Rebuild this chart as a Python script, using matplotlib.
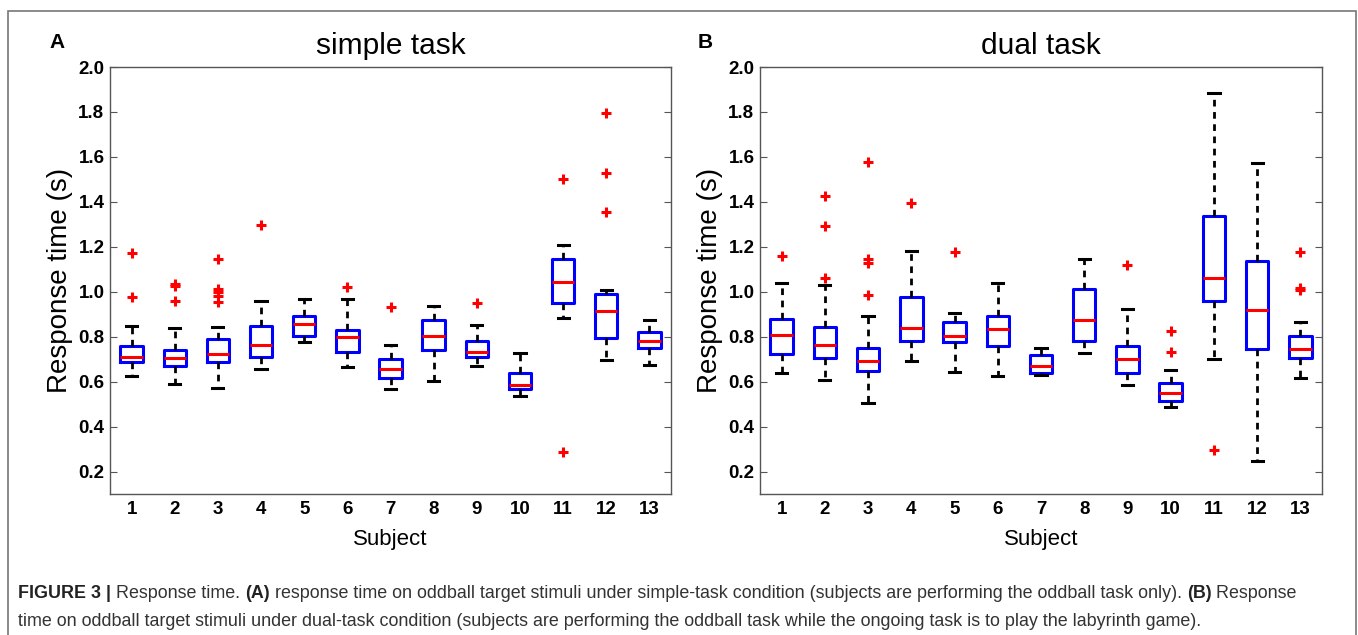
import matplotlib
matplotlib.use("Agg")
import matplotlib.pyplot as plt
from matplotlib.patches import Rectangle

plt.rcParams['font.family'] = ['Liberation Sans', 'DejaVu Sans']

subjects = list(range(1, 13 + 1))

# simple task: whisker low, q1, median, q3, whisker high, outliers
simple_lo = [0.624, 0.591, 0.573, 0.656, 0.778, 0.667, 0.567, 0.604, 0.671, 0.535, 0.884, 0.695, 0.673]
simple_q1 = [0.689, 0.668, 0.689, 0.711, 0.804, 0.730, 0.616, 0.739, 0.710, 0.566, 0.948, 0.792, 0.748]
simple_med = [0.710, 0.704, 0.724, 0.764, 0.856, 0.799, 0.658, 0.801, 0.733, 0.587, 1.044, 0.916, 0.779]
simple_q3 = [0.760, 0.739, 0.790, 0.846, 0.890, 0.828, 0.702, 0.876, 0.779, 0.639, 1.145, 0.991, 0.819]
simple_hi = [0.846, 0.837, 0.843, 0.959, 0.968, 0.969, 0.762, 0.935, 0.853, 0.726, 1.210, 1.006, 0.874]
simple_out = [[1.172, 0.976], [1.036, 1.024, 0.959], [1.147, 1.012, 0.997, 0.979, 0.953], [1.298], [],
              [1.019], [0.932], [], [0.950], [], [1.502, 0.287], [1.794, 1.529, 1.357], []]

# dual task
dual_lo = [0.639, 0.609, 0.504, 0.692, 0.643, 0.627, 0.630, 0.729, 0.587, 0.488, 0.701, 0.248, 0.616]
dual_q1 = [0.724, 0.705, 0.647, 0.781, 0.775, 0.759, 0.637, 0.782, 0.639, 0.514, 0.957, 0.744, 0.704]
dual_med = [0.807, 0.763, 0.690, 0.837, 0.803, 0.832, 0.671, 0.874, 0.701, 0.548, 1.062, 0.917, 0.747]
dual_q3 = [0.880, 0.844, 0.751, 0.976, 0.864, 0.893, 0.720, 1.012, 0.759, 0.594, 1.338, 1.136, 0.804]
dual_hi = [1.041, 1.031, 0.890, 1.182, 0.905, 1.041, 0.748, 1.147, 0.924, 0.653, 1.883, 1.575, 0.867]
dual_out = [[1.157], [1.424, 1.293, 1.061], [1.578, 1.147, 1.128, 0.987], [1.393], [1.178],
            [], [], [], [1.121], [0.827, 0.732], [0.298], [], [1.179, 1.018, 1.009]]

yticks = [0.2, 0.4, 0.6, 0.8, 1.0, 1.2, 1.4, 1.6, 1.8, 2.0]


def make_stats(lo, q1, med, q3, hi, out):
    stats = []
    for i in range(len(lo)):
        stats.append({"whislo": lo[i], "q1": q1[i], "med": med[i], "q3": q3[i],
                      "whishi": hi[i], "fliers": out[i]})
    return stats


def draw_panel(ax, stats, title):
    ax.bxp(stats, positions=subjects, widths=0.52, manage_ticks=False,
           boxprops=dict(color='#0000ff', linewidth=2.2),
           medianprops=dict(color='#ff0000', linewidth=2.2),
           whiskerprops=dict(color='black', linewidth=2.0, linestyle=(0, (2.4, 2.0))),
           capprops=dict(color='black', linewidth=2.2),
           flierprops=dict(marker='+', markeredgecolor='#ff0000', markersize=7, markeredgewidth=2.2))
    ax.set_xlim(0.5, 13.5)
    ax.set_ylim(0.1, 2.0)
    ax.set_xticks(subjects)
    ax.set_xticklabels([str(s) for s in subjects], fontsize=13.5, fontweight='bold')
    ax.set_yticks(yticks)
    ax.set_yticklabels(['%.1f' % t for t in yticks], fontsize=13.5, fontweight='bold')
    ax.tick_params(axis='y', direction='in', length=5, width=0.8, color='#555555', right=True, pad=4)
    ax.tick_params(axis='x', length=0, pad=5)
    for s in ax.spines.values():
        s.set_color('#555555')
        s.set_linewidth(1.0)
    ax.set_xlabel('Subject', fontsize=16, labelpad=8)
    ax.set_ylabel('Response time (s)', fontsize=20, labelpad=4)
    ax.set_title(title, fontsize=21.5, pad=9)


fig = plt.figure(figsize=(13.58, 6.35), dpi=100)

# outer frame
fig.patches.append(Rectangle((8 / 1358, -0.05), 1348 / 1358, 1.05 - 11 / 635, transform=fig.transFigure,
                             fill=False, edgecolor='#777777', linewidth=1.2))

ax1 = fig.add_axes([110 / 1358, 1 - 494 / 635, 561 / 1358, 427 / 635])
ax2 = fig.add_axes([760 / 1358, 1 - 494 / 635, 562 / 1358, 427 / 635])

draw_panel(ax1, make_stats(simple_lo, simple_q1, simple_med, simple_q3, simple_hi, simple_out), 'simple task')
draw_panel(ax2, make_stats(dual_lo, dual_q1, dual_med, dual_q3, dual_hi, dual_out), 'dual task')

fig.text(57 / 1358, 1 - 42 / 635, 'A', fontsize=15, fontweight='bold', ha='center', va='center')
fig.text(705 / 1358, 1 - 42 / 635, 'B', fontsize=15, fontweight='bold', ha='center', va='center')

# caption
cap_y1 = 1 - 594 / 635
cap_y2 = 1 - 621 / 635
x0 = 18 / 1358
parts = [("FIGURE 3 | ", 'bold', '#222222'), ("Response time. ", 'normal', '#333333'),
         ("(A)", 'bold', '#222222'),
         (" response time on oddball target stimuli under simple-task condition (subjects are performing the oddball task only). ",
          'normal', '#333333'),
         ("(B)", 'bold', '#222222'), (" Response", 'normal', '#333333')]
renderer = fig.canvas.get_renderer()
x = x0
for txt, w, col in parts:
    t = fig.text(x, cap_y1, txt, fontsize=12.9, fontweight=w, color=col, va='center', ha='left')
    bb = t.get_window_extent(renderer=renderer)
    x += bb.width / 1358
fig.text(x0, cap_y2, "time on oddball target stimuli under dual-task condition (subjects are performing the oddball task "
         "while the ongoing task is to play the labyrinth game).", fontsize=12.9, color='#333333', va='center', ha='left')

fig.savefig('out.png', dpi=100)
